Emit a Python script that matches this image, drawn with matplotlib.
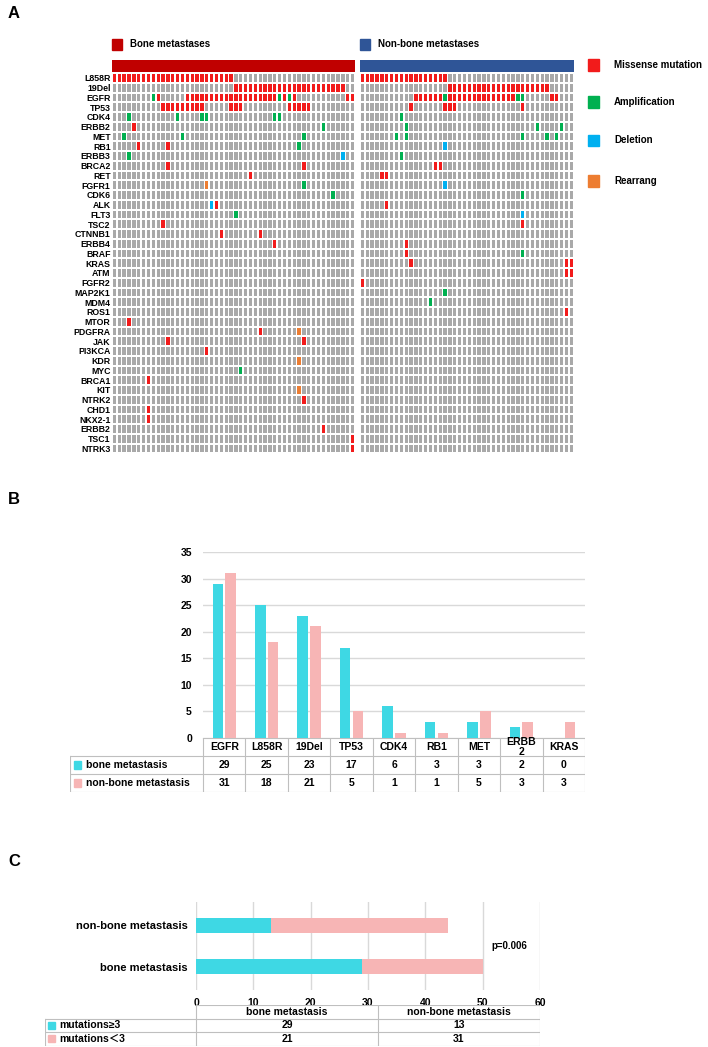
import numpy as np
import matplotlib
matplotlib.use("Agg")
import matplotlib.pyplot as plt
from matplotlib.patches import Rectangle

plt.rcParams['font.family'] = ['Liberation Sans', 'Noto Sans CJK SC', 'DejaVu Sans']
plt.rcParams['font.weight'] = 'bold'

W, H = 708, 1047

# ---------------- panel A data ----------------
gene_keys = ["L858R", "19Del", "EGFR", "TP53", "CDK4", "ERBB2", "MET", "RB1", "ERBB3",
             "BRCA2", "RET", "FGFR1", "CDK6", "ALK", "FLT3", "TSC2", "CTNNB1", "ERBB4",
             "BRAF", "KRAS", "ATM", "FGFR2", "MAP2K1", "MDM4", "ROS1", "MTOR", "PDGFRA",
             "JAK", "PI3KCA", "KDR", "MYC", "BRCA1", "KIT", "NTRK2", "CHD1", "NKX2-1",
             "ERBB2_2", "TSC1", "NTRK3"]
gene_labels = [g.split("_")[0] for g in gene_keys]

n_bone = 50
n_nonbone = 44

# patient columns carrying each alteration
bone_missense = {
    "L858R": list(range(0, 25)), "19Del": list(range(25, 48)),
    "EGFR": [9] + list(range(15, 34)) + [35, 37, 48, 49],
    "TP53": list(range(10, 19)) + [24, 25, 26] + list(range(36, 41)),
    "ERBB2": [4], "RB1": [5, 11], "BRCA2": [11, 39], "RET": [28], "ALK": [21],
    "TSC2": [10], "CTNNB1": [22, 30], "ERBB4": [33], "MTOR": [3], "PDGFRA": [30],
    "JAK": [11, 39], "PI3KCA": [19], "BRCA1": [7], "NTRK2": [39], "CHD1": [7],
    "NKX2-1": [7], "ERBB2_2": [43], "TSC1": [49], "NTRK3": [49],
}
bone_amp = {
    "EGFR": [8, 34, 36], "CDK4": [3, 13, 18, 19, 33, 34], "ERBB2": [43],
    "MET": [2, 14, 39], "RB1": [38], "ERBB3": [3], "FGFR1": [39], "CDK6": [45],
    "FLT3": [25], "MYC": [26],
}
bone_del = {"ERBB3": [47], "ALK": [20]}
bone_rearr = {"FGFR1": [19], "PDGFRA": [38], "KDR": [38], "KIT": [38]}

nonbone_missense = {
    "L858R": list(range(0, 18)), "19Del": list(range(18, 39)),
    "EGFR": list(range(11, 17)) + list(range(18, 32)) + [39, 40],
    "TP53": [10, 17, 18, 19, 33], "BRCA2": [15, 16], "RET": [4, 5], "ALK": [5],
    "TSC2": [33], "ERBB4": [9], "BRAF": [9], "KRAS": [10, 42, 43], "ATM": [42, 43],
    "FGFR2": [0], "ROS1": [42],
}
nonbone_amp = {
    "EGFR": [17, 32, 33], "CDK4": [8], "ERBB2": [9, 36, 41], "MET": [7, 9, 33, 38, 40],
    "ERBB3": [8], "CDK6": [33], "BRAF": [33], "MAP2K1": [17], "MDM4": [14],
}
nonbone_del = {"RB1": [17], "FGFR1": [17], "FLT3": [33]}
nonbone_rearr = {}

alt_names = ["Missense mutation", "Amplification", "Deletion", "Rearrang"]
alt_colors = ["#F21B1B", "#00B050", "#00B0F0", "#ED7D31"]
cell_grey = "#A9A9A9"

# ---------------- panel B data ----------------
b_genes = ["EGFR", "L858R", "19Del", "TP53", "CDK4", "RB1", "MET", "ERBB\n2", "KRAS"]
b_bone = [29, 25, 23, 17, 6, 3, 3, 2, 0]
b_nonbone = [31, 18, 21, 5, 1, 1, 5, 3, 3]
b_series = ["bone metastasis", "non-bone metastasis"]

# ---------------- panel C data ----------------
c_groups = ["bone metastasis", "non-bone metastasis"]
c_ge3 = [29, 13]
c_lt3 = [21, 31]
c_rows = ["mutations≥3", "mutations＜3"]
p_text = "p=0.006"

cyan = "#3ED8E4"
pink = "#F7B5B5"
grid_c = "#D9D9D9"


def px_axes(fig, x0, y0, x1, y1):
    return fig.add_axes([x0 / W, 1 - y1 / H, (x1 - x0) / W, (y1 - y0) / H])


fig = plt.figure(figsize=(W / 100, H / 100), dpi=100)

# ================= panel A =================
row0, row_pitch = 78.0, 9.75
y_top_data = -2.05
y_bot_data = len(gene_keys) - 0.5


def draw_group(ax, n, mis, amp, dele, rea, bar_color):
    for r, key in enumerate(gene_keys):
        cols = [cell_grey] * n
        for d, c in zip([mis, amp, dele, rea], alt_colors):
            for j in d.get(key, []):
                cols[j] = c
        ax.bar(np.arange(n), 0.78, bottom=r - 0.39, width=0.68, color=cols, linewidth=0)
    ax.barh(-1.22, n, left=-0.5, height=1.25, color=bar_color, linewidth=0)
    ax.set_xlim(-0.5, n - 0.5)
    ax.set_ylim(y_bot_data, y_top_data)
    ax.set_xticks([])
    for s in ax.spines.values():
        s.set_visible(False)


pitch = 4.86
ytop_px = row0 + (y_top_data) * row_pitch
ybot_px = row0 + (y_bot_data) * row_pitch
ax_b = px_axes(fig, 112, ytop_px, 112 + n_bone * pitch, ybot_px)
draw_group(ax_b, n_bone, bone_missense, bone_amp, bone_del, bone_rearr, "#C00000")
ax_b.set_yticks(range(len(gene_labels)))
ax_b.set_yticklabels(gene_labels, fontsize=6.3, fontweight='bold')
ax_b.tick_params(axis='y', length=0, pad=1)

ax_n = px_axes(fig, 360, ytop_px, 360 + n_nonbone * pitch, ybot_px)
draw_group(ax_n, n_nonbone, nonbone_missense, nonbone_amp, nonbone_del, nonbone_rearr, "#2F5597")
ax_n.set_yticks([])

fig.text(8 / W, 1 - 14 / H, "A", fontsize=12, fontweight='bold', va='center')

# group legend
for x, c, t in [(112, "#C00000", "Bone metastases"), (360, "#2F5597", "Non-bone metastases")]:
    fig.patches.append(Rectangle((x / W, 1 - 50 / H), 10 / W, 11 / H, color=c,
                                 transform=fig.transFigure))
    fig.text((x + 18) / W, 1 - 44 / H, t, fontsize=7, fontweight='bold', va='center')

# alteration legend
for yy, c, t in zip([65, 102, 140, 181], alt_colors, alt_names):
    fig.patches.append(Rectangle((588 / W, 1 - (yy + 5.5) / H), 11 / W, 11 / H, color=c,
                                 transform=fig.transFigure))
    fig.text(614 / W, 1 - yy / H, t, fontsize=7, fontweight='bold', va='center')

# ================= panel B =================
bx0, bx1 = 203, 585
by_top, by_zero = 552, 738
axB = px_axes(fig, bx0, by_top, bx1, by_zero)
x = np.arange(len(b_genes))
axB.bar(x - 0.15, b_bone, width=0.25, color=cyan, zorder=3)
axB.bar(x + 0.15, b_nonbone, width=0.25, color=pink, zorder=3)
axB.set_xlim(-0.5, len(b_genes) - 0.5)
axB.set_ylim(0, 35)
axB.set_yticks(range(0, 36, 5))
axB.set_yticklabels([str(v) for v in range(0, 36, 5)], fontsize=7.5, fontweight='bold')
axB.tick_params(axis='y', length=0, pad=8)
axB.set_xticks([])
axB.grid(axis='y', color=grid_c, linewidth=1)
axB.set_axisbelow(True)
for s in axB.spines.values():
    s.set_visible(False)

fig.text(8 / W, 1 - 500 / H, "B", fontsize=12, fontweight='bold', va='center')

# data table under panel B
tb_left = 70
row_h = 18
unit = (bx1 - bx0) / len(b_genes)
axT = px_axes(fig, tb_left, by_zero, bx1, by_zero + 3 * row_h)
xl = -0.5 - (bx0 - tb_left) / unit
axT.set_xlim(xl, len(b_genes) - 0.5)
axT.set_ylim(3, 0)
axT.axis('off')
lc = "#BFBFBF"
axT.plot([-0.5, len(b_genes) - 0.5], [0, 0], color=lc, lw=0.8)
for yv in [1, 2, 3]:
    axT.plot([xl, len(b_genes) - 0.5], [yv, yv], color=lc, lw=0.8)
for i in range(len(b_genes) + 1):
    axT.plot([i - 0.5, i - 0.5], [0, 3], color=lc, lw=0.8)
axT.plot([xl, xl], [1, 3], color=lc, lw=0.8)
for i, g in enumerate(b_genes):
    axT.text(i, 0.5, g, ha='center', va='center', fontsize=7.5, fontweight='bold',
             linespacing=1.0)
    axT.text(i, 1.5, str(b_bone[i]), ha='center', va='center', fontsize=7.5, fontweight='bold')
    axT.text(i, 2.5, str(b_nonbone[i]), ha='center', va='center', fontsize=7.5, fontweight='bold')
for k, (name, c) in enumerate(zip(b_series, [cyan, pink])):
    axT.add_patch(Rectangle((xl + 0.1, k + 1.3), 0.17, 0.4, color=c))
    axT.text(xl + 0.38, k + 1.5, name, ha='left', va='center', fontsize=7.5, fontweight='bold')

# ================= panel C =================
cx0, cx1 = 196, 540
c_top, c_bot = 902, 990
axC = px_axes(fig, cx0, c_top, cx1, c_bot)
ypos = np.arange(len(c_groups))
axC.barh(ypos, c_ge3, height=0.36, color=cyan, zorder=3)
axC.barh(ypos, c_lt3, left=c_ge3, height=0.36, color=pink, zorder=3)
axC.set_xlim(0, 60)
axC.set_ylim(-0.55, 1.55)
axC.set_xticks(range(0, 61, 10))
axC.set_xticklabels([str(v) for v in range(0, 61, 10)], fontsize=7.5, fontweight='bold')
axC.set_yticks(ypos)
axC.set_yticklabels(c_groups, fontsize=8, fontweight='bold')
axC.tick_params(length=0, pad=6)
axC.grid(axis='x', color=grid_c, linewidth=1)
axC.set_axisbelow(True)
for s in axC.spines.values():
    s.set_visible(False)
axC.text(51.5, 0.5, p_text, fontsize=7, fontweight='bold', va='center', ha='left')

fig.text(8 / W, 1 - 862 / H, "C", fontsize=12, fontweight='bold', va='center')

# table under panel C
ct_left = 45
ct_top = 1005
crow = 13.5
axCT = px_axes(fig, ct_left, ct_top, cx1, ct_top + 3 * crow)
axCT.set_xlim(ct_left, cx1)
axCT.set_ylim(3, 0)
axCT.axis('off')
mid = (cx0 + cx1) / 2 + 10
for yv in [0, 1, 2, 3]:
    axCT.plot([cx0 if yv == 0 else ct_left, cx1], [yv, yv], color=lc, lw=0.8)
for xv in [cx0, mid, cx1]:
    axCT.plot([xv, xv], [0, 3], color=lc, lw=0.8)
axCT.plot([ct_left, ct_left], [1, 3], color=lc, lw=0.8)
centers = [(cx0 + mid) / 2, (mid + cx1) / 2]
for j, g in enumerate(c_groups):
    axCT.text(centers[j], 0.5, g, ha='center', va='center', fontsize=7.5, fontweight='bold')
    axCT.text(centers[j], 1.5, str(c_ge3[j]), ha='center', va='center', fontsize=7.5, fontweight='bold')
    axCT.text(centers[j], 2.5, str(c_lt3[j]), ha='center', va='center', fontsize=7.5, fontweight='bold')
for k, (name, c) in enumerate(zip(c_rows, [cyan, pink])):
    axCT.add_patch(Rectangle((ct_left + 3, k + 1.25), 7, 0.5, color=c))
    axCT.text(ct_left + 14, k + 1.5, name, ha='left', va='center', fontsize=7.5, fontweight='bold')

fig.savefig("out.png", dpi=100)
